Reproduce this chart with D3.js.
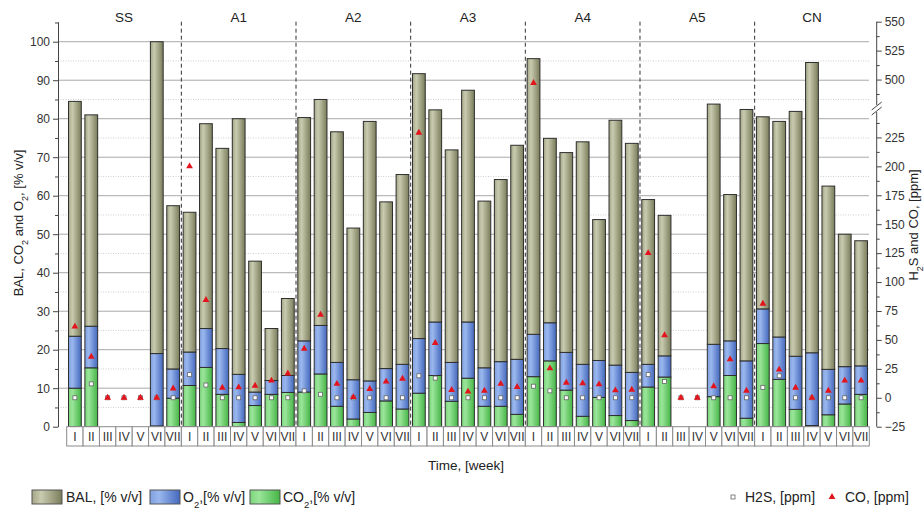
<!DOCTYPE html>
<html>
<head>
<meta charset="utf-8">
<script src="https://cdn.jsdelivr.net/npm/d3@7"></script>
<style>
body { margin: 0; background: #fff; }
text { font-family: Arial, "Liberation Sans", sans-serif; fill: #222; }
</style>
</head>
<body>
<div id="chart"></div>
<script>
// groups and weeks
groups = ["SS", "A1", "A2", "A3", "A4", "A5", "CN"]
weeks = ["I", "II", "III", "IV", "V", "VI", "VII"]

// % v/v, one value per group x week (null = no sample)
co2 = [10.0, 15.3, null, null, null, 0.2, 7.4,
       10.7, 15.4, 8.4, 1.1, 5.5, 8.4, 8.9,
       9.0, 13.7, 5.3, 2.0, 3.7, 6.7, 4.6,
       8.7, 13.3, 6.6, 12.6, 5.3, 5.3, 3.2,
       13.0, 17.1, 9.5, 2.7, 7.6, 2.9, 1.6,
       10.3, 12.9, null, null, 7.8, 13.3, 2.2,
       21.6, 12.3, 4.5, 0.3, 3.1, 5.9, 8.4]
o2 = [13.5, 10.8, null, null, null, 18.8, 7.6,
      8.7, 10.1, 11.9, 12.5, 3.5, 3.6, 4.4,
      13.3, 12.6, 11.4, 10.2, 8.2, 8.4, 11.6,
      14.2, 13.9, 10.1, 14.6, 10.0, 11.6, 14.3,
      11.0, 9.9, 9.8, 13.5, 9.6, 13.1, 12.5,
      5.9, 5.5, null, null, 13.6, 9.0, 14.9,
      9.0, 11.0, 13.8, 18.9, 11.8, 9.7, 7.4]
bal = [61.0, 54.9, null, null, null, 81.0, 42.4,
       36.3, 53.2, 52.0, 66.4, 34.0, 13.5, 20.0,
       58.0, 58.7, 59.9, 39.4, 67.4, 43.3, 49.3,
       68.8, 55.1, 55.2, 60.2, 43.3, 47.3, 55.6,
       71.6, 47.9, 51.9, 57.8, 36.6, 63.6, 59.5,
       42.8, 36.5, null, null, 62.4, 38.0, 65.3,
       49.9, 56.0, 63.6, 75.4, 47.6, 34.4, 32.5]

// ppm
h2s = [0, 12, 0, 0, 0, 0, 0,
       20, 11, 0, 0, 0, 0, 0,
       6, 3, 0, 0, 0, 0, 0,
       19, 17, 0, 0, 0, 0, 0,
       10, 6, 0, 0, 0, 0, 0,
       20, 14, 0, 0, 0, 0, 0,
       9, 19, 0, 0, 0, 0, 0]
co = [61.5, 35.5, 0, 0, 0, 0, 8,
      200, 84.5, 8.7, 9, 10.4, 14.8, 21,
      42.4, 71.8, 12, 0.6, 7.6, 14, 16.5,
      229, 47.3, 6.7, 5.3, 6.1, 12, 9.3,
      497, 25.4, 13, 12.5, 11.6, 6.4, 7,
      125, 54, 0, 0, 9.9, 33.2, 6.1,
      81.3, 24.3, 8.7, 0, 6.1, 14.8, 14.8]

leftTicks = d3.range(0, 101, 10)
rightTicks = [-25, 0, 25, 50, 75, 100, 125, 150, 175, 200, 225, 500, 525, 550]

width = 924, height = 514

svg = d3.select("#chart")
  .append("svg")
  .attr("width", width)
  .attr("height", height)

data = []
groups.forEach((g, gi) => weeks.forEach((w, wi) => {
  i = gi * 7 + wi
  data.push({id: g + "-" + w, group: g, week: w, co2: co2[i], o2: o2[i], bal: bal[i], h2s: h2s[i], co: co[i]})
}))

x = d3.scaleBand().domain(data.map(d => d.id)).range([66.7, 869.3])
y = d3.scaleLinear().domain([0, 105.2]).range([426.7, 21.7])
// right axis with a break between 250 and 475 ppm
y2 = d3.scaleLinear().domain([-25, 250, 475, 550]).range([426.7, 108.5, 108.5, 21.7])

// gradients
defs = svg.append("defs")
grads = {
  bal: ["#a4a686", "#c9cbb0", "#7a7d5a"],
  o2: ["#7f9fdf", "#9ab7ee", "#4468bd"],
  co2: ["#7cd67c", "#9ae59a", "#45b545"]
}
Object.keys(grads).forEach(k => {
  g = defs.append("linearGradient").attr("id", "g-" + k)
  g.append("stop").attr("offset", "0%").attr("stop-color", grads[k][0])
  g.append("stop").attr("offset", "30%").attr("stop-color", grads[k][1])
  g.append("stop").attr("offset", "100%").attr("stop-color", grads[k][2])
})

// gridlines
svg.append("g")
  .selectAll("line")
  .data(d3.range(5, 101, 5))
  .join("line")
    .attr("x1", 58).attr("x2", 869)
    .attr("y1", d => y(d)).attr("y2", d => y(d))
    .attr("stroke", d => d % 10 == 0 ? "#a9a9a9" : "#cfcfcf")
    .attr("stroke-dasharray", d => d % 10 == 0 ? null : "1,1.5")

// stacked bars
stack = d3.stack().keys(["co2", "o2", "bal"]).value((d, k) => d[k] || 0)
series = stack(data)
svg.append("g")
  .selectAll("g")
  .data(series)
  .join("g")
    .attr("fill", s => "url(#g-" + s.key + ")")
  .selectAll("rect")
  .data(s => s.filter(p => p.data.bal != null))
  .join("rect")
    .attr("x", p => x(p.data.id) + x.bandwidth() * 0.11)
    .attr("width", x.bandwidth() * 0.78)
    .attr("y", p => y(p[1]))
    .attr("height", p => y(p[0]) - y(p[1]))
    .attr("stroke", "#2e2e2e")
    .attr("stroke-width", 1)

// group separators and names
svg.append("g")
  .selectAll("line")
  .data(groups.slice(1))
  .join("line")
    .attr("x1", g => x(g + "-I")).attr("x2", g => x(g + "-I"))
    .attr("y1", 21.7).attr("y2", 426.7)
    .attr("stroke", "#333")
    .attr("stroke-dasharray", "4,3")

svg.append("g")
  .selectAll("text")
  .data(groups)
  .join("text")
    .attr("x", g => (x(g + "-I") + x(g + "-VII") + x.bandwidth()) / 2)
    .attr("y", 22)
    .attr("text-anchor", "middle")
    .style("font-size", "13.5px")
    .text(g => g)

// week boxes under the bars
weekBoxes = svg.append("g")
weekBoxes.selectAll("rect")
  .data(data)
  .join("rect")
    .attr("x", d => x(d.id))
    .attr("y", 426.7)
    .attr("width", x.bandwidth())
    .attr("height", 19.3)
    .attr("fill", "#fff")
    .attr("stroke", "#8a8a8a")
weekBoxes.selectAll("text")
  .data(data)
  .join("text")
    .attr("x", d => x(d.id) + x.bandwidth() / 2)
    .attr("y", 441)
    .attr("text-anchor", "middle")
    .style("font-size", "12px")
    .style("fill", "#333")
    .text(d => d.week)

// left axis
gl = svg.append("g").attr("transform", "translate(58,0)")
gl.call(d3.axisLeft(y).tickValues(leftTicks).tickSize(5).tickSizeOuter(0).tickPadding(3))
gl.append("g").call(d3.axisLeft(y).tickValues(d3.range(5, 106, 10)).tickSize(3).tickFormat("")).select(".domain").remove()
gl.selectAll("text").style("font-size", "12px").attr("font-family", null).style("fill", "#333")
gl.selectAll("line,path").attr("stroke", "#444")

// right axis
gr = svg.append("g").attr("transform", "translate(876.7,0)")
gr.call(d3.axisRight(y2).tickValues(rightTicks).tickSize(5).tickPadding(3))
gr.select(".domain").remove()
gr.append("g").call(d3.axisRight(y2).tickValues(d3.range(-12.5, 240, 25).concat([487.5, 512.5, 537.5])).tickSize(3).tickFormat("")).select(".domain").remove()
gr.selectAll("text").style("font-size", "12px").attr("font-family", null).style("fill", "#333")
gr.selectAll("line").attr("stroke", "#444")
gr.append("line").attr("x1", 0).attr("x2", 0).attr("y1", y2(-25)).attr("y2", 112).attr("stroke", "#444")
gr.append("line").attr("x1", 0).attr("x2", 0).attr("y1", 105).attr("y2", y2(550)).attr("stroke", "#444")
gr.append("line").attr("x1", -5).attr("x2", 5).attr("y1", 115).attr("y2", 107).attr("stroke", "#444")
gr.append("line").attr("x1", -5).attr("x2", 5).attr("y1", 110).attr("y2", 102).attr("stroke", "#444")

// H2S and CO markers
cx = d => x(d.id) + x.bandwidth() / 2
svg.append("g")
  .selectAll("rect")
  .data(data.filter(d => d.h2s != null))
  .join("rect")
    .attr("x", d => cx(d) - 2)
    .attr("y", d => y2(d.h2s) - 2)
    .attr("width", 4).attr("height", 4)
    .attr("fill", "#fff")
    .attr("stroke", "#666")
    .attr("stroke-width", 0.8)
svg.append("g")
  .selectAll("path")
  .data(data.filter(d => d.co != null))
  .join("path")
    .attr("transform", d => `translate(${cx(d)}, ${y2(d.co)})`)
    .attr("d", d3.symbol(d3.symbolTriangle).size(20))
    .attr("fill", "#e3141c")

// axis titles
svg.append("text")
  .attr("transform", "translate(23,223) rotate(-90)")
  .attr("text-anchor", "middle")
  .style("font-size", "13px")
  .html('BAL, CO<tspan baseline-shift="sub" font-size="9px">2</tspan> and O<tspan baseline-shift="sub" font-size="9px">2</tspan>, [% v/v]')
svg.append("text")
  .attr("transform", "translate(918,225) rotate(-90)")
  .attr("text-anchor", "middle")
  .style("font-size", "13px")
  .html('H<tspan baseline-shift="sub" font-size="9px">2</tspan>S and CO, [ppm]')
svg.append("text")
  .attr("x", 466).attr("y", 470)
  .attr("text-anchor", "middle")
  .style("font-size", "13.5px")
  .text("Time, [week]")

// legend
legend = svg.append("g")
swatches = [
  {key: "bal", x: 32, tx: 66, label: 'BAL, [% v/v]'},
  {key: "o2", x: 150, tx: 183, label: 'O<tspan baseline-shift="sub" font-size="9.5px">2</tspan>,[% v/v]'},
  {key: "co2", x: 250, tx: 283, label: 'CO<tspan baseline-shift="sub" font-size="9.5px">2</tspan>,[% v/v]'}
]
swatches.forEach(s => {
  legend.append("rect").attr("x", s.x).attr("y", 490).attr("width", 30).attr("height", 14)
    .attr("fill", "url(#g-" + s.key + ")").attr("stroke", "#555")
  legend.append("text").attr("x", s.tx).attr("y", 502).style("font-size", "14px").html(s.label)
})
legend.append("rect").attr("x", 731).attr("y", 495).attr("width", 4).attr("height", 4)
  .attr("fill", "#fff").attr("stroke", "#666").attr("stroke-width", 0.8)
legend.append("text").attr("x", 745).attr("y", 502).style("font-size", "14px").text("H2S, [ppm]")
legend.append("path").attr("transform", "translate(832,497)")
  .attr("d", d3.symbol(d3.symbolTriangle).size(20)).attr("fill", "#e3141c")
legend.append("text").attr("x", 845).attr("y", 502).style("font-size", "14px").text("CO, [ppm]")
</script>
</body>
</html>
